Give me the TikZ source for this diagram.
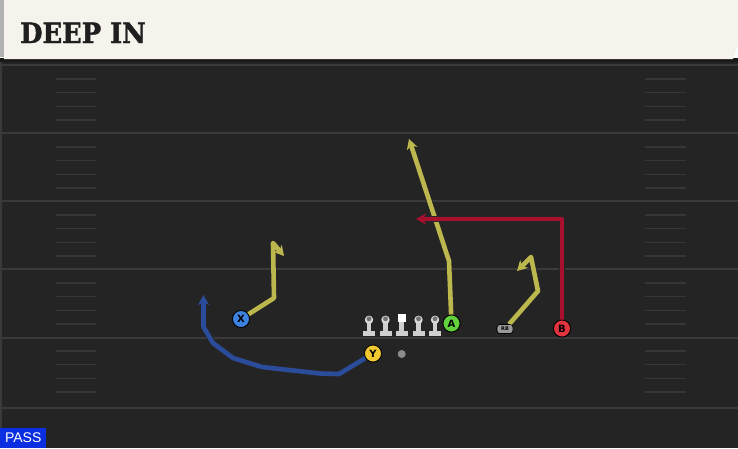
\documentclass[tikz,border=0pt]{standalone}
\usepackage{fontspec}
\setsansfont{DejaVu Sans}
\newfontfamily\titlefont{DejaVu Serif}[FakeStretch=0.92, FakeBold=1.5]
\newfontfamily\passfont{Liberation Sans}
\usepackage{tikz}
\usetikzlibrary{arrows.meta,positioning,calc}

\definecolor{cream}{HTML}{F6F3EC}
\definecolor{field}{HTML}{242424}
\definecolor{yard}{HTML}{3A3A3A}
\definecolor{hash}{HTML}{363636}
\definecolor{olive}{HTML}{BDB84E}
\definecolor{crimson}{HTML}{A8102E}
\definecolor{navy}{HTML}{2B4C9A}
\definecolor{xblue}{HTML}{3D82E0}
\definecolor{ygold}{HTML}{F1C832}
\definecolor{agreen}{HTML}{62D23C}
\definecolor{bred}{HTML}{E2343E}
\definecolor{olgray}{HTML}{CFCFCF}
\definecolor{passblue}{HTML}{0B2EE0}

\begin{document}
\begin{tikzpicture}[
  x=1pt, y=-1pt,
  player/.style={circle, draw=black, line width=0.8pt, inner sep=0pt,
    minimum size=17pt, font=\sffamily\bfseries\fontsize{10}{10}\selectfont},
  rbbox/.style={draw=black, line width=0.6pt, fill=olgray!75!black, rounded corners=3pt,
    minimum width=16pt, minimum height=9pt, inner sep=0pt,
    font=\sffamily\bfseries\fontsize{5}{5}\selectfont},
  lineman/.style={fill=olgray, minimum width=12pt, minimum height=5pt, inner sep=0pt},
  route/.style={line width=4.6pt, line join=round,
    preaction={draw=black!85, line width=6.2pt, line join=round}},
  tip/.style={-{Stealth[length=10pt, width=11pt, inset=3pt]}},
  yardline/.style={draw=yard, line width=2pt},
  hashmark/.style={draw=hash, line width=1.5pt}
]
\useasboundingbox (0,0) rectangle (738,448);

% Field
\fill[field] (0,59) rectangle (738,448);
\fill[yard] (0,59) rectangle (2,448);
\foreach \y in {65,133,201,269,338,408}
  \draw[yardline] (0,\y) -- (738,\y);
\foreach \k in {0,...,4} {
  \foreach \d in {14,27.5,41.5,55} {
    \draw[hashmark] (56,65+68*\k+\d) -- (96,65+68*\k+\d);
    \draw[hashmark] (645,65+68*\k+\d) -- (686,65+68*\k+\d);
  }
}

% Header
\fill[black!90] (0,58) rectangle (738,62);
\fill[cream] (4,0) -- (738,0) -- (738,45) -- (733,59) -- (4,59) -- cycle;
\fill[black!30] (0,0) rectangle (4,57);
\node[anchor=base west, inner sep=0pt, text=black!88,
  font=\titlefont\bfseries\fontsize{28}{28}\selectfont] (title) at (20,43) {DEEP IN};

% Play type
\node[anchor=south west, fill=passblue, text=white, inner sep=0pt,
  minimum width=46pt, minimum height=20pt,
  font=\passfont\fontsize{14}{14}\selectfont] (pass) at (0,448) {PASS};

% Offensive line
\foreach \i/\x in {1/369,2/385.5,3/401.5,4/418.5,5/435} {
  \node[lineman] (l\i) at (\x,333.5) {};
  \fill[olgray] ($(l\i.north)+(-2.2,0)$) rectangle ($(l\i.north)+(2.2,-10)$);
}
\foreach \i in {1,2,4,5} {
  \fill[olgray!80] ($(l\i.north)+(0,-11)$) circle (4.2);
  \fill[olgray!55!black] ($(l\i.north)+(0,-12)$) circle (2.4);
}
\fill[white] ($(l3.north)+(-4,-17)$) rectangle ($(l3.north)+(4,-9)$);
\fill[black!45] (401.7,354) circle (4);

% Players
\node[player, fill=xblue] (X) at (241,319) {X};
\node[player, fill=ygold] (Y) at (373,353.5) {Y};
\node[player, fill=agreen] (A) at (451.5,323.5) {A};
\node[player, fill=bred] (B) at (562,328.5) {B};
\node[rbbox] (RB) at (505,329) {RB};

% Route points
\coordinate (x1) at (274,298);
\coordinate (x2) at (273,243);
\coordinate (x3) at (284,256);
\coordinate (a1) at (449,261);
\coordinate (a2) at (409,139);
\coordinate (b1) at (562,219);
\coordinate (b2) at (416,219);
\coordinate (r1) at (538,291);
\coordinate (r2) at (531,257);
\coordinate (r3) at (517,271);
\coordinate (y1) at (339,374);
\coordinate (y2) at (320,373.5);
\coordinate (y3) at (262,367);
\coordinate (y4) at (233,358);
\coordinate (y5) at (213,343);
\coordinate (y6) at (203.5,327);
\coordinate (y7) at (203.5,295);

% Routes
\draw[route, olive, tip] (X) -- (x1) -- (x2) -- (x3);
\draw[route, olive, tip] (A) -- (a1) -- (a2);
\draw[route, olive, tip] (RB) -- (r1) -- (r2) -- (r3);
\draw[route, crimson, tip] (B) -- (b1) -- (b2);
\draw[route, navy, tip] (Y) -- (y1) -- (y2) -- (y3) -- (y4) -- (y5) -- (y6) -- (y7);

% Players on top of routes
\node[player, fill=xblue] at (X) {X};
\node[player, fill=ygold] at (Y) {Y};
\node[player, fill=agreen] at (A) {A};
\node[player, fill=bred] at (B) {B};
\node[rbbox] at (RB) {RB};
\end{tikzpicture}
\end{document}
